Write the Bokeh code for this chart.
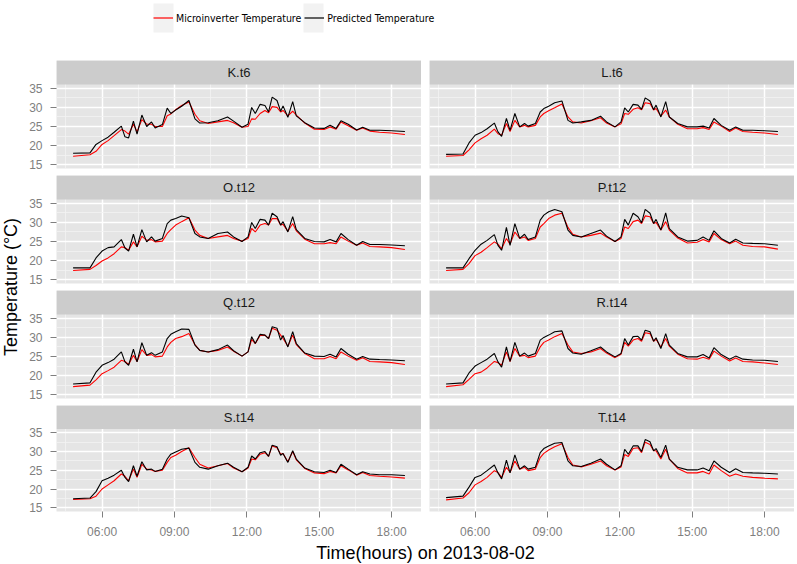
import pandas as pd
from bokeh.plotting import figure
from bokeh.models import (Range1d, FixedTicker, DatetimeTickFormatter, Legend, LegendItem,
                          Label, Spacer, BoxAnnotation, ColumnDataSource)
from bokeh.layouts import column, row
from bokeh.embed import file_html
from bokeh.resources import INLINE

# ---------------- data ----------------
DAY = "2013-08-02"
hours = [4.80, 5.50, 5.75, 6.00, 6.25, 6.50, 6.80, 6.95, 7.10, 7.30,
         7.45, 7.65, 7.85, 8.05, 8.20, 8.50, 8.70, 8.85, 9.05, 9.30,
         9.60, 9.85, 10.05, 10.40, 10.80, 11.20, 11.45, 11.80, 12.05, 12.20,
         12.35, 12.55, 12.75, 12.90, 13.05, 13.25, 13.40, 13.50, 13.70, 13.90,
         14.05, 14.40, 14.80, 15.20, 15.45, 15.70, 15.90, 16.20, 16.55, 16.80,
         17.10, 17.50, 18.00, 18.55]

panel_names = ["K.t6", "L.t6", "O.t12", "P.t12", "Q.t12", "R.t14", "S.t14", "T.t14"]

k_t6_micro = [17.2, 17.6, 18.5, 20.3, 21.3, 22.6, 24.2, 23.8, 23.0, 25.6,
              23.6, 26.8, 25.6, 25.6, 25.0, 25.0, 27.8, 28.3, 29.4, 30.5,
              31.4, 28.2, 26.5, 25.8, 26.2, 26.6, 26.0, 24.8, 25.0, 27.0,
              26.9, 28.4, 29.2, 28.6, 30.2, 30.0, 28.8, 29.2, 27.8, 29.0,
              28.0, 25.9, 24.3, 24.2, 24.9, 24.3, 26.2, 25.2, 24.0, 24.6,
              23.8, 23.5, 23.3, 22.9]
k_t6_pred = [18.0, 18.1, 20.3, 21.3, 22.2, 23.5, 25.1, 22.3, 22.0, 26.4,
             23.0, 28.0, 25.0, 26.2, 24.6, 25.5, 29.8, 28.4, 29.3, 30.3,
             31.8, 27.0, 25.9, 26.0, 26.5, 27.5, 26.4, 24.8, 25.6, 30.0,
             28.4, 30.8, 30.5, 28.8, 32.7, 31.8, 29.0, 30.4, 27.4, 31.5,
             27.8, 26.0, 24.6, 24.5, 25.3, 24.5, 26.5, 25.6, 24.1, 24.8,
             24.0, 24.0, 23.9, 23.7]

l_t6_micro = [17.2, 17.4, 18.9, 20.7, 21.8, 22.7, 24.3, 23.1, 22.7, 25.8,
              23.7, 26.6, 24.9, 25.3, 24.9, 25.3, 27.5, 28.4, 29.1, 29.9,
              30.9, 27.5, 26.2, 25.9, 26.5, 27.3, 25.9, 24.9, 25.7, 28.4,
              28.2, 29.5, 29.9, 29.4, 31.2, 31.0, 29.3, 29.7, 27.7, 29.3,
              27.5, 25.6, 24.4, 24.4, 24.7, 24.2, 26.2, 25.1, 23.7, 24.6,
              23.7, 23.5, 23.3, 22.9]
l_t6_pred = [17.7, 17.8, 20.7, 22.7, 23.4, 24.4, 25.9, 23.6, 22.4, 27.1,
             24.0, 28.4, 24.9, 25.8, 25.1, 25.8, 28.8, 29.7, 30.3, 31.2,
             31.7, 26.6, 25.9, 26.2, 26.6, 27.7, 26.2, 24.9, 26.2, 29.9,
             28.8, 30.8, 30.6, 29.5, 32.5, 31.7, 29.4, 30.6, 27.5, 31.5,
             27.5, 25.8, 24.9, 24.9, 25.1, 24.6, 27.1, 25.3, 24.0, 24.9,
             24.0, 24.0, 23.9, 23.7]

o_t12_micro = [17.4, 17.7, 18.7, 19.9, 20.7, 21.8, 23.6, 23.4, 22.7, 24.9,
               23.6, 26.4, 25.3, 25.5, 24.9, 25.1, 27.1, 28.1, 29.3, 30.2,
               31.2, 28.0, 26.6, 25.8, 26.2, 26.6, 25.8, 25.1, 25.8, 28.4,
               27.5, 29.3, 29.7, 29.3, 31.0, 31.0, 29.3, 29.5, 27.7, 29.7,
               27.8, 25.6, 24.4, 24.4, 24.7, 24.4, 26.2, 25.1, 24.0, 24.6,
               23.7, 23.6, 23.4, 22.9]
o_t12_pred = [18.1, 18.1, 20.7, 22.5, 23.4, 23.6, 25.5, 23.3, 22.5, 26.9,
              23.6, 28.1, 24.9, 26.2, 25.1, 25.8, 29.7, 30.6, 31.0, 31.7,
              31.2, 27.1, 26.2, 25.8, 27.1, 27.5, 26.2, 25.0, 26.2, 30.0,
              28.4, 30.8, 30.6, 29.3, 32.4, 31.5, 29.3, 30.2, 27.5, 31.5,
              28.1, 25.8, 25.0, 24.9, 25.5, 24.9, 27.1, 25.5, 24.0, 25.0,
              24.2, 24.2, 24.1, 23.9]

p_t12_micro = [17.4, 17.7, 19.2, 21.3, 22.2, 23.4, 24.9, 24.3, 23.1, 25.8,
               24.3, 27.5, 25.8, 26.2, 25.3, 25.8, 28.8, 29.7, 31.0, 31.9,
               32.4, 28.7, 26.9, 26.2, 26.6, 27.2, 26.2, 25.0, 25.8, 28.8,
               28.4, 30.2, 30.6, 29.7, 31.7, 31.5, 29.7, 30.0, 28.0, 30.2,
               28.0, 25.9, 24.6, 24.8, 25.5, 24.9, 27.1, 25.5, 24.4, 25.1,
               24.0, 23.7, 23.6, 23.0]
p_t12_pred = [18.1, 18.1, 20.5, 22.7, 24.3, 25.3, 26.8, 24.0, 22.7, 28.7,
              24.0, 29.7, 25.8, 26.9, 25.5, 26.2, 30.6, 31.9, 32.8, 33.4,
              32.8, 28.0, 26.6, 26.2, 27.1, 28.0, 26.4, 25.0, 26.2, 30.8,
              29.3, 32.4, 31.5, 29.9, 33.4, 32.4, 29.7, 30.8, 28.0, 32.5,
              28.4, 26.2, 25.1, 25.3, 26.2, 25.3, 27.8, 25.8, 24.6, 25.6,
              24.6, 24.5, 24.4, 24.0]

q_t12_micro = [17.1, 17.5, 18.9, 20.5, 21.3, 22.2, 24.0, 23.7, 22.9, 25.3,
               23.7, 26.8, 25.3, 25.5, 24.9, 25.1, 27.5, 28.7, 29.7, 30.2,
               31.0, 28.1, 26.6, 26.2, 26.6, 27.5, 26.4, 25.1, 26.2, 29.5,
               28.4, 30.5, 30.6, 29.7, 32.4, 31.9, 30.6, 29.7, 27.7, 30.6,
               28.1, 25.8, 24.4, 24.4, 25.0, 24.4, 26.2, 25.1, 24.0, 24.7,
               23.7, 23.6, 23.4, 22.9]
q_t12_pred = [17.8, 18.1, 20.9, 22.7, 23.4, 24.3, 26.2, 23.6, 22.7, 26.9,
              23.6, 28.6, 25.3, 26.0, 25.3, 26.2, 29.7, 30.8, 31.5, 32.2,
              32.1, 28.0, 26.6, 26.2, 26.8, 28.0, 26.5, 25.1, 26.2, 30.2,
              28.4, 30.8, 30.6, 29.7, 32.8, 32.4, 29.3, 30.5, 27.5, 31.5,
              28.4, 25.9, 25.1, 25.0, 25.6, 24.9, 27.1, 25.6, 24.3, 25.0,
              24.3, 24.2, 24.1, 23.9]

r_t14_micro = [17.1, 17.6, 19.0, 20.5, 20.9, 22.0, 23.7, 23.4, 22.7, 26.2,
               23.7, 27.1, 25.1, 25.3, 24.7, 25.1, 27.5, 28.7, 29.3, 30.2,
               31.0, 28.0, 26.2, 25.8, 26.2, 27.1, 25.9, 24.7, 25.6, 28.7,
               27.7, 29.3, 29.7, 29.0, 31.2, 31.0, 29.0, 29.5, 27.5, 29.7,
               27.7, 25.6, 24.4, 24.3, 24.8, 24.3, 26.4, 25.1, 23.8, 24.6,
               23.7, 23.6, 23.3, 22.9]
r_t14_pred = [17.8, 18.1, 20.7, 22.5, 23.4, 24.3, 25.8, 23.6, 22.2, 27.5,
              23.7, 28.7, 25.1, 25.9, 25.1, 25.8, 29.3, 30.0, 30.6, 31.5,
              31.7, 27.1, 25.9, 25.6, 26.5, 27.5, 26.2, 24.9, 25.8, 29.7,
              28.0, 30.2, 30.3, 29.3, 31.9, 31.5, 29.0, 29.9, 27.1, 31.0,
              28.0, 25.8, 24.9, 24.9, 25.5, 24.6, 27.3, 25.5, 24.3, 25.1,
              24.3, 24.1, 24.0, 23.7]

s_t14_micro = [17.2, 17.4, 18.1, 20.0, 21.1, 22.2, 24.0, 23.4, 22.2, 25.3,
               23.1, 26.6, 25.3, 25.1, 24.7, 25.0, 27.1, 28.4, 29.0, 30.0,
               31.0, 28.4, 26.6, 25.6, 26.2, 26.8, 25.6, 24.6, 25.6, 28.0,
               27.8, 29.3, 29.7, 28.7, 31.5, 31.0, 29.3, 29.5, 27.3, 30.0,
               27.8, 25.5, 24.3, 24.1, 24.7, 24.3, 26.2, 25.1, 23.7, 24.4,
               23.6, 23.4, 23.2, 22.9]
s_t14_pred = [17.4, 17.6, 19.3, 22.2, 22.9, 23.7, 25.0, 23.1, 22.0, 26.2,
              23.4, 27.3, 25.1, 25.3, 24.7, 25.3, 28.0, 29.3, 29.9, 30.6,
              30.9, 27.1, 25.8, 25.3, 26.2, 26.9, 25.8, 24.6, 25.8, 28.8,
              28.0, 29.7, 30.0, 28.7, 31.7, 31.3, 29.0, 29.5, 27.1, 30.2,
              28.0, 25.6, 24.6, 24.4, 25.0, 24.4, 26.6, 25.3, 23.8, 24.6,
              24.0, 23.8, 23.8, 23.6]

t_t14_micro = [17.1, 17.6, 19.0, 21.1, 22.0, 23.1, 24.9, 24.4, 23.1, 25.8,
               24.4, 27.5, 25.3, 25.8, 24.9, 25.3, 28.4, 29.5, 30.4, 31.3,
               32.1, 28.4, 26.4, 25.9, 26.6, 27.5, 26.2, 25.1, 25.9, 29.2,
               28.7, 30.8, 31.0, 29.7, 32.5, 31.9, 30.2, 30.2, 28.0, 30.6,
               28.0, 25.5, 24.3, 24.3, 24.7, 24.0, 26.4, 24.9, 23.4, 24.0,
               23.4, 23.1, 22.9, 22.7]
t_t14_pred = [17.7, 18.1, 20.5, 23.1, 23.7, 24.9, 26.4, 24.3, 22.7, 27.7,
              24.3, 29.1, 25.3, 26.2, 25.3, 25.8, 29.7, 30.8, 31.5, 32.2,
              32.4, 27.5, 26.2, 26.0, 26.9, 28.0, 26.6, 25.1, 26.2, 30.6,
              29.3, 31.5, 31.5, 30.0, 33.2, 32.6, 30.2, 30.8, 28.4, 31.7,
              28.0, 25.8, 25.1, 25.1, 25.6, 24.9, 27.5, 25.8, 24.4, 25.4,
              24.4, 24.3, 24.2, 24.0]

micro_series = [k_t6_micro, l_t6_micro, o_t12_micro, p_t12_micro,
                q_t12_micro, r_t14_micro, s_t14_micro, t_t14_micro]
pred_series = [k_t6_pred, l_t6_pred, o_t12_pred, p_t12_pred,
               q_t12_pred, r_t14_pred, s_t14_pred, t_t14_pred]

series_labels = ["Microinverter Temperature", "Predicted Temperature"]
series_colors = ["#ff0000", "#000000"]

x_tick_labels = ["06:00", "09:00", "12:00", "15:00", "18:00"]
x_minor_labels = ["04:30", "07:30", "10:30", "13:30", "16:30"]
y_ticks = [15, 20, 25, 30, 35]
y_minor_ticks = [17.5, 22.5, 27.5, 32.5]
y_limits = (14, 36)
x_limits_hours = (4.1125, 19.2375)

x_title = "Time(hours) on 2013-08-02"
y_title = "Temperature (°C)"

# ---------------- styling / geometry ----------------
SANS = "Liberation Sans"
NARROW = "'DejaVu Sans Condensed', 'Liberation Sans', sans-serif"
PANEL_BG = "#e5e5e5"
STRIP_BG = "#cccccc"
GREY = "#7f7f7f"

YLAB_W = 22
LEFT_B = 34
PANEL_W = 365
GAP_X = 8
STRIP_H = 24
PANEL_H = 84
INNER_B = 4          # small bottom border so the lowest tick label is not clipped
GAP_Y = 3
BOTTOM_B = 28
LEGEND_H = 60
XLAB_H = 22
FRAME_LEFT = YLAB_W + LEFT_B
TOTAL_W = FRAME_LEFT + PANEL_W + GAP_X + PANEL_W


def ts(h):
    return pd.Timestamp(DAY) + pd.to_timedelta(h, unit="h")


def ms(label):
    return pd.Timestamp(f"{DAY} {label}").value / 1e6


times = pd.Timestamp(DAY) + pd.to_timedelta(hours, unit="h")
x_rng = Range1d(start=ts(x_limits_hours[0]), end=ts(x_limits_hours[1]))
# the strip sits on top of the data area, inside the same frame
y_span = y_limits[1] - y_limits[0]
strip_top = y_limits[1] + y_span * STRIP_H / PANEL_H
y_rng = Range1d(start=y_limits[0], end=strip_top)
x_mid_ms = (x_rng.start.value + x_rng.end.value) / 2e6
strip_mid = (y_limits[1] + strip_top) / 2

fmt = DatetimeTickFormatter(microseconds="%H:%M", milliseconds="%H:%M", seconds="%H:%M",
                            minsec="%H:%M", minutes="%H:%M", hourmin="%H:%M",
                            hours="%H:%M", days="%H:%M", months="%H:%M", years="%H:%M")


def bare(fig):
    fig.xgrid.visible = False
    fig.ygrid.visible = False
    return fig


def make_panel(i, left, bottom):
    p = figure(width=PANEL_W + (LEFT_B if left else 0),
               height=STRIP_H + PANEL_H + (BOTTOM_B if bottom else INNER_B),
               x_range=x_rng, y_range=y_rng, x_axis_type="datetime",
               x_axis_location="below" if bottom else None,
               y_axis_location="left" if left else None,
               toolbar_location=None, output_backend="svg",
               min_border_left=LEFT_B if left else 0, min_border_right=0,
               min_border_top=0, min_border_bottom=BOTTOM_B if bottom else INNER_B,
               background_fill_color=PANEL_BG, border_fill_color="white",
               outline_line_color=None)
    xt = FixedTicker(ticks=[ms(l) for l in x_tick_labels],
                     minor_ticks=[ms(l) for l in x_minor_labels])
    yt = FixedTicker(ticks=y_ticks, minor_ticks=y_minor_ticks)
    for g in p.xgrid:
        g.axis.ticker = xt
    for g in p.ygrid:
        g.axis.ticker = yt
    for g in list(p.xgrid) + list(p.ygrid):
        g.grid_line_color = "white"
        g.grid_line_width = 1.5
        g.minor_grid_line_color = "#f2f2f2"
        g.minor_grid_line_width = 0.8
    for ax in list(p.xaxis) + list(p.yaxis):
        ax.axis_line_color = None
        ax.major_tick_line_color = GREY
        ax.major_tick_in = 0
        ax.major_tick_out = 6
        ax.minor_tick_line_color = None
        ax.major_label_text_color = GREY
        ax.major_label_text_font = SANS
        ax.major_label_text_font_size = "12px"
    for ax in p.xaxis:
        ax.formatter = fmt
        ax.major_label_standoff = 7
    for ax in p.yaxis:
        ax.major_label_standoff = 8

    src = ColumnDataSource(dict(t=times, micro=micro_series[i], pred=pred_series[i]))
    p.line("t", "micro", source=src, line_color=series_colors[0], line_width=1.1)
    p.line("t", "pred", source=src, line_color=series_colors[1], line_width=1.1)

    # facet strip
    p.add_layout(BoxAnnotation(bottom=y_limits[1], fill_color=STRIP_BG, fill_alpha=1.0,
                               line_color=None))
    p.add_layout(Label(x=x_mid_ms, y=strip_mid, text=panel_names[i], text_align="center",
                       text_baseline="middle", text_font=SANS, text_font_size="13px",
                       text_color="#1a1a1a"))
    return p


left_items, right_items = [], []
for r in range(4):
    bottom = (r == 3)
    for c, items in ((0, left_items), (1, right_items)):
        i = 2 * r + c
        items.append(make_panel(i, c == 0, bottom))
        if not bottom:
            items.append(Spacer(width=PANEL_W + (LEFT_B if c == 0 else 0), height=GAP_Y))

block_h = 4 * (STRIP_H + PANEL_H) + 3 * (INNER_B + GAP_Y) + BOTTOM_B

# y-axis title
ylab = figure(width=YLAB_W, height=block_h, x_range=Range1d(0, 1), y_range=Range1d(0, 1),
              x_axis_location=None, y_axis_location=None, toolbar_location=None,
              output_backend="svg", min_border_left=0, min_border_right=0,
              min_border_top=0, min_border_bottom=BOTTOM_B,
              background_fill_color=None, border_fill_color="white", outline_line_color=None)
bare(ylab)
ylab.add_layout(Label(x=0.48, y=0.5, text=y_title, angle=90, angle_units="deg",
                      text_align="center", text_baseline="middle", text_font=SANS,
                      text_font_size="18px", text_color="#000000"))

# legend (its frame is aligned with the panel area: screen x = data x)
lf = figure(width=TOTAL_W, height=LEGEND_H, x_range=Range1d(FRAME_LEFT, TOTAL_W),
            y_range=Range1d(0, LEGEND_H),
            x_axis_location=None, y_axis_location=None, toolbar_location=None,
            output_backend="svg", min_border_left=FRAME_LEFT, min_border_right=0,
            min_border_top=0, min_border_bottom=0, background_fill_color="white",
            border_fill_color="white", outline_line_color=None)
bare(lf)
KEY_W, KEY_H, KEY_TOP = 20, 29, 3
key_left = [153, 303]
for kl in key_left:
    lf.add_layout(BoxAnnotation(left=kl, right=kl + KEY_W, bottom=LEGEND_H - KEY_TOP - KEY_H,
                                top=LEGEND_H - KEY_TOP, fill_color="#f2f2f2", fill_alpha=1.0,
                                line_color=None, level="underlay"))
rs = [lf.line(x=[-100, -99], y=[-100, -100], line_color=series_colors[k], line_width=1.2)
      for k in range(2)]
legend = Legend(items=[LegendItem(label=series_labels[k], renderers=[rs[k]]) for k in range(2)],
                orientation="horizontal",
                location=(key_left[0] - FRAME_LEFT, LEGEND_H - KEY_TOP - KEY_H),
                glyph_width=KEY_W, glyph_height=KEY_H, label_standoff=3, spacing=3,
                padding=0, margin=0, border_line_color=None, background_fill_alpha=0,
                label_text_font=NARROW, label_text_font_size="10.5px",
                label_text_color="#000000")
lf.add_layout(legend)

# x-axis title
xlab = figure(width=TOTAL_W, height=XLAB_H, x_range=Range1d(0, 1), y_range=Range1d(0, 1),
              x_axis_location=None, y_axis_location=None, toolbar_location=None,
              output_backend="svg", min_border_left=FRAME_LEFT, min_border_right=0,
              min_border_top=0, min_border_bottom=0, background_fill_color=None,
              border_fill_color="white", outline_line_color=None)
bare(xlab)
xlab.add_layout(Label(x=0.5, y=0.5, text=x_title, text_align="center", text_baseline="middle",
                      text_font=SANS, text_font_size="18px", text_color="#000000"))

block = row(ylab, column(*left_items, spacing=0), Spacer(width=GAP_X, height=block_h),
            column(*right_items, spacing=0), spacing=0)
page = column(lf, block, xlab, spacing=0)

open("out.html", "w").write(file_html(page, INLINE))
